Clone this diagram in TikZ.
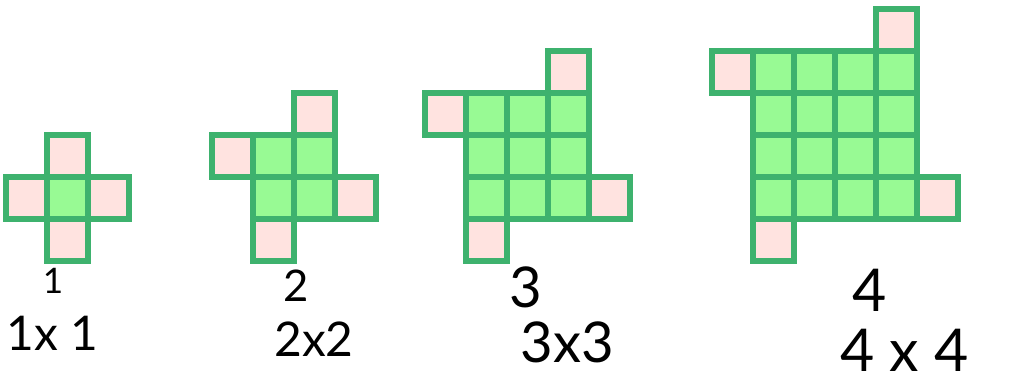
\documentclass[tikz,border=0pt]{standalone}
\usepackage{fontspec}
\setmainfont{Lato}
\usepackage{tikz}
\usepackage{xcolor}
\definecolor{sqedge}{RGB}{62,178,110}
\definecolor{sqgreen}{RGB}{152,250,148}
\definecolor{sqpink}{RGB}{255,227,224}
% one cell: #1 = left, #2 = top, #3 = style
\newcommand{\xcell}[3]{%
    \draw[#3] (#1,#2) rectangle ++(41,42);
}
% n x n square with its four arms: #1 = n, #2 = left of square, #3 = top of square
\newcommand{\xpattern}[3]{%
    \foreach \i in {1,...,#1}{%
        \foreach \j in {1,...,#1}{%
            \pgfmathsetmacro{\cellx}{#2+(\i-1)*41}%
            \pgfmathsetmacro{\celly}{#3+(\j-1)*42}%
            \xcell{\cellx}{\celly}{greencell}%
        }%
    }%
    \pgfmathsetmacro{\armx}{#2+(#1-1)*41}%
    \xcell{\armx}{#3-42}{pinkcell}%
    \xcell{#2-41}{#3}{pinkcell}%
    \pgfmathsetmacro{\armx}{#2+#1*41}%
    \pgfmathsetmacro{\army}{#3+(#1-1)*42}%
    \xcell{\armx}{\army}{pinkcell}%
    \pgfmathsetmacro{\army}{#3+#1*42}%
    \xcell{#2}{\army}{pinkcell}%
}

\begin{document}
\begin{tikzpicture}[x=0.025cm, y=-0.025cm,
        greencell/.style={draw=sqedge, fill=sqgreen, line width=3.8pt},
        pinkcell/.style={draw=sqedge, fill=sqpink, line width=3.8pt},
        numlabel/.style={inner sep=0pt, font=\fontsize{34}{38}\selectfont}]

        \useasboundingbox (0,0) rectangle (1016,387);

        % ---------------- patterns ----------------
        \xpattern{1}{47}{177}
        \xpattern{2}{253}{135}
        \xpattern{3}{466}{93}
        \xpattern{4}{753}{51}

        % ---------------- labels ----------------
        \node[numlabel, font=\fontsize{25}{28}\selectfont] (n1) at (53,281) {1};
        \node[numlabel, anchor=west] (s1) at (6,333) {1x 1};
        \node[numlabel, font=\fontsize{31}{34}\selectfont] (n2) at (296,286) {2};
        \node[numlabel] (s2) at (314,339) {2x2};
        \node[numlabel, font=\fontsize{40}{44}\selectfont] (n3) at (526,287) {3};
        \node[numlabel, font=\fontsize{40}{44}\selectfont] (s3) at (567,342) {3x3};
        \node[numlabel, font=\fontsize{42}{46}\selectfont] (n4) at (870,290) {4};
        \node[numlabel, font=\fontsize{42}{46}\selectfont, anchor=west] (s4) at (840,350) {4 x 4};

    \end{tikzpicture}
\end{document}
